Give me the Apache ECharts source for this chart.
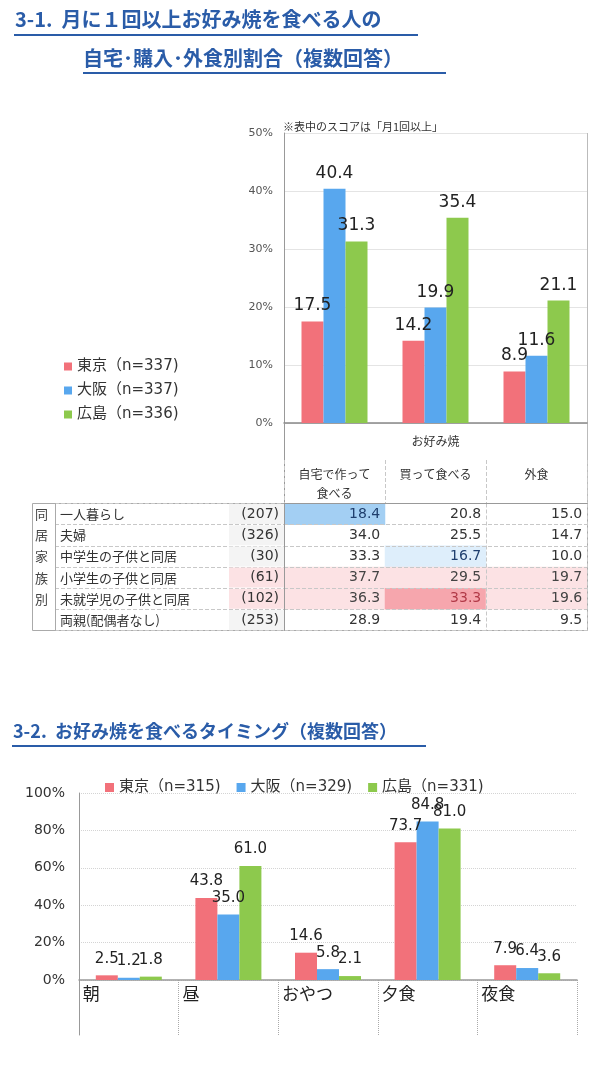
<!DOCTYPE html>
<html><head><meta charset="utf-8">
<script src="https://cdn.jsdelivr.net/npm/echarts@6/dist/echarts.min.js"></script>
<style>html,body{margin:0;padding:0;background:#fff}#c{width:600px;height:1074px}</style>
</head><body><div id="c"></div>
<script>
// ---- Chart 3-1 data ----
const cats1 = ['自宅で作って食べる', '買って食べる', '外食'];
const headerLabels = ['自宅で作って\n食べる', '買って食べる', '外食'];
const groupLabel = ['お好み焼'];
const series1Names = ['東京（n=337)', '大阪（n=337)', '広島（n=336)'];
const tokyo1 = [17.5, 14.2, 8.9];
const osaka1 = [40.4, 19.9, 11.6];
const hiroshima1 = [31.3, 35.4, 21.1];

// ---- Table data ----
const rowNames = ['一人暮らし', '夫婦', '中学生の子供と同居', '小学生の子供と同居', '未就学児の子供と同居', '両親(配偶者なし)'];
const rowCounts = [207, 326, 30, 61, 102, 253];
const famChars = ['同', '居', '家', '族', '別', ''];
const homeVals = [18.4, 34.0, 33.3, 37.7, 36.3, 28.9];
const buyVals = [20.8, 25.5, 16.7, 29.5, 33.3, 19.4];
const outVals = [15.0, 14.7, 10.0, 19.7, 19.6, 9.5];
// highlight marks per row [home, buy, out]: B strong blue, b light blue, P strong pink, p light pink
const cellMarks = [['B', '', ''], ['', '', ''], ['', 'b', ''], ['p', 'p', 'p'], ['p', 'P', 'p'], ['', '', '']];
const rowPink = [false, false, false, true, true, false];

// ---- Chart 3-2 data ----
const cats2 = ['朝', '昼', 'おやつ', '夕食', '夜食'];
const series2Names = ['東京（n=315)', '大阪（n=329)', '広島（n=331)'];
const tokyo2 = [2.5, 43.8, 14.6, 73.7, 7.9];
const osaka2 = [1.2, 35.0, 5.8, 84.8, 6.4];
const hiroshima2 = [1.8, 61.0, 2.1, 81.0, 3.6];

// ---- styles ----
const RED = '#f2717a', BLUE = '#58a7ee', GREEN = '#8dc94d';
const TITLE = '#2a5ca8';
const FONT = '"DejaVu Sans", "Noto Sans CJK JP", sans-serif';
const JFONT = '"Noto Sans CJK JP", sans-serif';
const markColor = { '': 'rgba(255,255,255,0)', B: '#a3cff3', b: '#deeefb', P: '#f6a6ad', p: '#fce2e4' };
const markText = { '': '#333', B: '#1f3f6e', b: '#1f3f6e', P: '#b23a48', p: '#444' };

const G1 = { left: 284, top: 133, width: 303, height: 290 };
const HDR = { top: 460, height: 43.5 };
const TBL = { top: 503.5, height: 127 };
const LBL = { left: 55, width: 229 };
const OUTER_L = 32;
const G2 = { left: 79, top: 793, width: 498, height: 187 };
const G2B = { height: 55 };

const heatData = [];
[homeVals, buyVals, outVals].forEach((col, ci) => {
  col.forEach((v, ri) => {
    const m = cellMarks[ri][ci];
    heatData.push({ value: [ci, ri, v], itemStyle: { color: markColor[m] }, label: { color: markText[m] } });
  });
});

function barSeries(name, data, color, xi, yi, fs, dist) {
  return {
    type: 'bar', name, data, xAxisIndex: xi, yAxisIndex: yi, barWidth: 22, barGap: '0%',
    itemStyle: { color }, emphasis: { disabled: true },
    label: { show: true, position: 'top', distance: dist, fontSize: fs, color: '#222', fontFamily: FONT,
      formatter: p => p.value.toFixed(1) }
  };
}

const catHidden = { axisTick: { show: false }, axisLabel: { show: false } };
const dashed = { show: true, lineStyle: { type: 'dashed', color: '#c8c8c8' } };

const option = {
  animation: false,
  textStyle: { fontFamily: FONT },
  grid: [
    { left: G1.left, top: G1.top, width: G1.width, height: G1.height },
    { left: G1.left, top: HDR.top, width: G1.width, height: HDR.height },
    { left: G1.left, top: TBL.top, width: G1.width, height: TBL.height },
    { left: LBL.left, top: TBL.top, width: LBL.width, height: TBL.height },
    { left: G2.left, top: G2.top, width: G2.width, height: G2.height },
    { left: G2.left, top: G2.top + G2.height, width: G2.width, height: G2B.height }
  ],
  xAxis: [
    Object.assign({ gridIndex: 0, type: 'category', data: cats1, axisLine: { lineStyle: { color: '#888', width: 1.5 } } }, catHidden),
    { gridIndex: 0, type: 'category', data: groupLabel, position: 'bottom', axisLine: { show: false }, axisTick: { show: false },
      axisLabel: { margin: 12, fontSize: 12, color: '#333', fontFamily: JFONT } },
    { gridIndex: 1, type: 'category', data: headerLabels, position: 'top', axisLine: { show: true, lineStyle: { color: '#999' } },
      axisTick: { show: false }, axisLabel: { inside: true, margin: 5, fontSize: 12, lineHeight: 19, color: '#333', fontFamily: JFONT, interval: 0 },
      splitLine: dashed },
    Object.assign({ gridIndex: 2, type: 'category', data: cats1, position: 'top', axisLine: { show: true, lineStyle: { color: '#999' } }, splitLine: dashed }, catHidden),
    { gridIndex: 3, type: 'category', data: ['x'], show: false },
    Object.assign({ gridIndex: 4, type: 'category', data: cats2, axisLine: { lineStyle: { color: '#999', width: 1.5 } } }, catHidden),
    { gridIndex: 5, type: 'category', data: cats2, position: 'top', axisLine: { show: false }, axisTick: { show: false },
      axisLabel: { inside: true, margin: 5, interval: 0, formatter: v => '{a|' + v + '}',
        rich: { a: { width: 92, align: 'left', fontSize: 17, color: '#222', fontFamily: JFONT } } },
      splitLine: { show: true, lineStyle: { type: 'dotted', color: '#aaa' } } }
  ],
  yAxis: [
    { gridIndex: 0, type: 'value', min: 0, max: 50, interval: 10,
      axisLine: { show: true, lineStyle: { color: '#999' } }, axisTick: { show: false },
      axisLabel: { formatter: '{value}%', fontSize: 11, color: '#555', margin: 11 },
      splitLine: { lineStyle: { color: '#e4e4e4' } } },
    { gridIndex: 1, type: 'value', show: false },
    { gridIndex: 2, type: 'category', data: rowNames, inverse: true, axisLine: { show: true, lineStyle: { color: '#999' } },
      axisTick: { show: false }, axisLabel: { show: false }, splitLine: dashed },
    { gridIndex: 3, type: 'category', data: rowNames, inverse: true, axisLine: { show: true, lineStyle: { color: '#aaa' } },
      axisTick: { show: false }, splitLine: dashed,
      axisLabel: { inside: true, margin: 0, interval: 0, lineHeight: 20,
        formatter: (v, i) => '{n|' + v + '}' + (rowPink[i] ? '{cp|(' : '{c|(') + rowCounts[i] + ')}',
        rich: {
          n: { width: 169, padding: [0, 0, 0, 5], height: 20, lineHeight: 20, fontSize: 13, color: '#333', fontFamily: JFONT },
          c: { width: 50, align: 'right', padding: [0, 5, 0, 0], height: 20, lineHeight: 20, fontSize: 14, color: '#333', backgroundColor: '#f4f4f4', fontFamily: FONT },
          cp: { width: 50, align: 'right', padding: [0, 5, 0, 0], height: 20, lineHeight: 20, fontSize: 14, color: '#333', backgroundColor: '#fce2e4', fontFamily: FONT }
        } } },
    { gridIndex: 3, type: 'category', data: rowNames, inverse: true, position: 'left', axisLine: { show: false }, axisTick: { show: false },
      axisLabel: { margin: 7, interval: 0, fontSize: 13, color: '#444', fontFamily: JFONT, formatter: (v, i) => famChars[i] } },
    { gridIndex: 4, type: 'value', min: 0, max: 100, interval: 20,
      axisLine: { show: true, lineStyle: { color: '#999' } }, axisTick: { show: false },
      axisLabel: { formatter: '{value}%', fontSize: 14, color: '#333', margin: 14 },
      splitLine: { lineStyle: { type: 'dotted', color: '#d4d4d4' } } },
    { gridIndex: 5, type: 'value', min: 0, max: 1, axisLine: { show: true, lineStyle: { color: '#999' } },
      axisTick: { show: false }, axisLabel: { show: false }, splitLine: { show: false } }
  ],
  legend: [
    { data: series1Names, orient: 'vertical', left: 59, top: 354, icon: 'rect', itemWidth: 8, itemHeight: 8, itemGap: 9,
      textStyle: { fontSize: 15, color: '#333', fontFamily: FONT } },
    { data: series2Names, orient: 'horizontal', left: 100, top: 775, icon: 'rect', itemWidth: 9, itemHeight: 9, itemGap: 16,
      textStyle: { fontSize: 15, color: '#333', fontFamily: FONT } }
  ],
  series: [
    barSeries(series1Names[0], tokyo1, RED, 0, 0, 17, 7),
    barSeries(series1Names[1], osaka1, BLUE, 0, 0, 17, 7),
    barSeries(series1Names[2], hiroshima1, GREEN, 0, 0, 17, 7),
    { type: 'heatmap', xAxisIndex: 3, yAxisIndex: 2, data: heatData, z: -1, emphasis: { disabled: true },
      label: { show: true, position: 'insideRight', distance: 5, fontSize: 14, fontFamily: FONT,
        formatter: p => p.value[2].toFixed(1) } },
    barSeries(series2Names[0], tokyo2, RED, 5, 5, 15, 9),
    barSeries(series2Names[1], osaka2, BLUE, 5, 5, 15, 9),
    barSeries(series2Names[2], hiroshima2, GREEN, 5, 5, 15, 9)
  ],
  graphic: [
    { type: 'text', left: 15, top: 9, style: { text: '3-1.  月に１回以上お好み焼を食べる人の', fill: TITLE, font: 'bold 20px ' + JFONT } },
    { type: 'line', shape: { x1: 14, y1: 35, x2: 418, y2: 35 }, style: { stroke: TITLE, lineWidth: 2 } },
    { type: 'text', left: 83, top: 48, style: { text: '自宅･購入･外食別割合（複数回答）', fill: TITLE, font: 'bold 20px ' + JFONT } },
    { type: 'line', shape: { x1: 83, y1: 73, x2: 446, y2: 73 }, style: { stroke: TITLE, lineWidth: 2 } },
    { type: 'text', left: 283, top: 121, style: { text: '※表中のスコアは「月1回以上」', fill: '#333', font: '11px ' + JFONT } },
    { type: 'line', shape: { x1: G1.left + 0.5, y1: G1.top + G1.height, x2: G1.left + 0.5, y2: TBL.top }, style: { stroke: '#999', lineWidth: 1 } },
    { type: 'line', shape: { x1: G1.left + G1.width + 0.5, y1: G1.top, x2: G1.left + G1.width + 0.5, y2: TBL.top + TBL.height }, style: { stroke: '#bbb', lineWidth: 1 } },
    { type: 'rect', shape: { x: OUTER_L + 0.5, y: TBL.top, width: G1.left + G1.width - OUTER_L, height: TBL.height }, style: { fill: 'none', stroke: '#aaa', lineWidth: 1 } },
    { type: 'text', left: 13, top: 722, style: { text: '3-2.  お好み焼を食べるタイミング（複数回答）', fill: TITLE, font: 'bold 18px ' + JFONT } },
    { type: 'line', shape: { x1: 12, y1: 746, x2: 426, y2: 746 }, style: { stroke: TITLE, lineWidth: 2 } }
  ]
};

const chart = echarts.init(document.getElementById('c'), null, { renderer: 'canvas' });
chart.setOption(option);
</script>
</body></html>
